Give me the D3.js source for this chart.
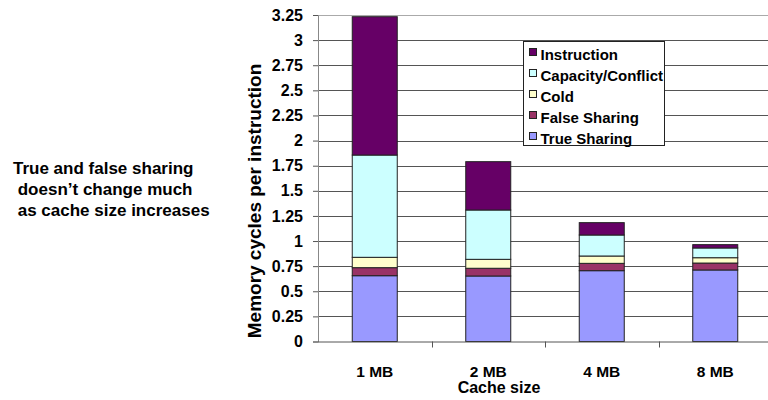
<!DOCTYPE html>
<html><head><meta charset="utf-8">
<script src="https://cdn.jsdelivr.net/npm/d3@7"></script>
<style>
body{margin:0;background:#fff;}
svg{display:block;font-family:"Liberation Sans",Arial,sans-serif;font-weight:bold;}
</style></head>
<body><svg id="c" width="768" height="400"></svg>
<script>
const categories = ["1 MB","2 MB","4 MB","8 MB"];
const seriesNames = ["True Sharing","False Sharing","Cold","Capacity/Conflict","Instruction"];
const trueSharing = [0.655,0.652,0.705,0.712];
const falseSharing = [0.080,0.077,0.073,0.069];
const cold = [0.103,0.089,0.073,0.053];
const capacity = [1.018,0.491,0.209,0.097];
const instruction = [1.377,0.481,0.123,0.033];
const yTicks = [0,0.25,0.5,0.75,1,1.25,1.5,1.75,2,2.25,2.5,2.75,3,3.25];
const colors = ["#9999FF","#993366","#FFFFCC","#CCFFFF","#660066"];
const noteLines = ["True and false sharing"," doesn\u2019t change much"," as cache size increases"];

(function(){
const svg = d3.select("#c");
const pL = 318, pR = 772, pT = 15, pB = 341.5;
const xb = d3.scaleBand().domain(categories).range([pL,pR]);
const y = d3.scaleLinear().domain([0,3.25]).range([pB,pT]);

const table = categories.map((c,i)=>({cat:c,"True Sharing":trueSharing[i],"False Sharing":falseSharing[i],"Cold":cold[i],"Capacity/Conflict":capacity[i],"Instruction":instruction[i]}));
const stacked = d3.stack().keys(seriesNames)(table);

// gridlines
svg.append("g").selectAll("line").data(yTicks.filter(d=>d>0)).join("line")
  .attr("x1",pL).attr("x2",768).attr("y1",d=>Math.round(y(d))+0.5).attr("y2",d=>Math.round(y(d))+0.5)
  .attr("stroke",d=>d===3.25?"#aaa":"#555").attr("stroke-width",1);

// bars
const bw = 45;
stacked.forEach((s,si)=>{
  svg.append("g").selectAll("rect").data(s).join("rect")
    .attr("x",(d,i)=>xb(categories[i])+xb.bandwidth()/2-bw/2)
    .attr("width",bw)
    .attr("y",d=>y(d[1]))
    .attr("height",d=>y(d[0])-y(d[1]))
    .attr("fill",colors[si]).attr("stroke","#222").attr("stroke-width",1);
});

// y axis
const ya = svg.append("g").attr("transform",`translate(${pL},0)`)
  .call(d3.axisLeft(y).tickValues(yTicks).tickSize(5).tickPadding(10).tickFormat(d=>d3.format("")(d)));
ya.select(".domain").attr("stroke","#888");
ya.selectAll(".tick line").attr("stroke","#555");
ya.selectAll("text").attr("font-size",16).attr("font-weight","bold").attr("fill","#000").attr("font-family","Liberation Sans, Arial, sans-serif");

// x axis
svg.append("line").attr("x1",pL).attr("x2",768).attr("y1",pB+0.5).attr("y2",pB+0.5).attr("stroke","#555");
svg.append("g").selectAll("line").data(categories.slice(1)).join("line")
  .attr("x1",d=>Math.round(xb(d))+0.5).attr("x2",d=>Math.round(xb(d))+0.5)
  .attr("y1",pB).attr("y2",pB+6).attr("stroke","#555");
svg.append("g").selectAll("text").data(categories).join("text")
  .attr("x",d=>xb(d)+xb.bandwidth()/2).attr("y",377).attr("text-anchor","middle")
  .attr("font-size",15.5).text(d=>d);
svg.append("text").attr("x",499).attr("y",393).attr("text-anchor","middle").attr("font-size",16).text("Cache size");

// y title
svg.append("text").attr("transform","translate(261,201) rotate(-90)").attr("text-anchor","middle")
  .attr("font-size",19).text("Memory cycles per instruction");

// legend
const lg = svg.append("g").attr("transform","translate(523.5,41.5)");
lg.append("rect").attr("width",141).attr("height",104).attr("fill","#fff").attr("stroke","#222");
const legOrder = seriesNames.slice().reverse();
legOrder.forEach((n,i)=>{
  const ci = seriesNames.indexOf(n);
  lg.append("rect").attr("x",6).attr("y",7+i*21).attr("width",7).attr("height",7)
    .attr("fill",colors[ci]).attr("stroke","#222");
  lg.append("text").attr("x",17).attr("y",18.5+i*21).attr("font-size",15).text(n);
});

// note
svg.append("g").selectAll("text").data(noteLines).join("text")
  .attr("x",13).attr("y",(d,i)=>174+i*21).attr("font-size",17)
  .style("white-space","pre").text(d=>d);
})();
</script></body></html>
